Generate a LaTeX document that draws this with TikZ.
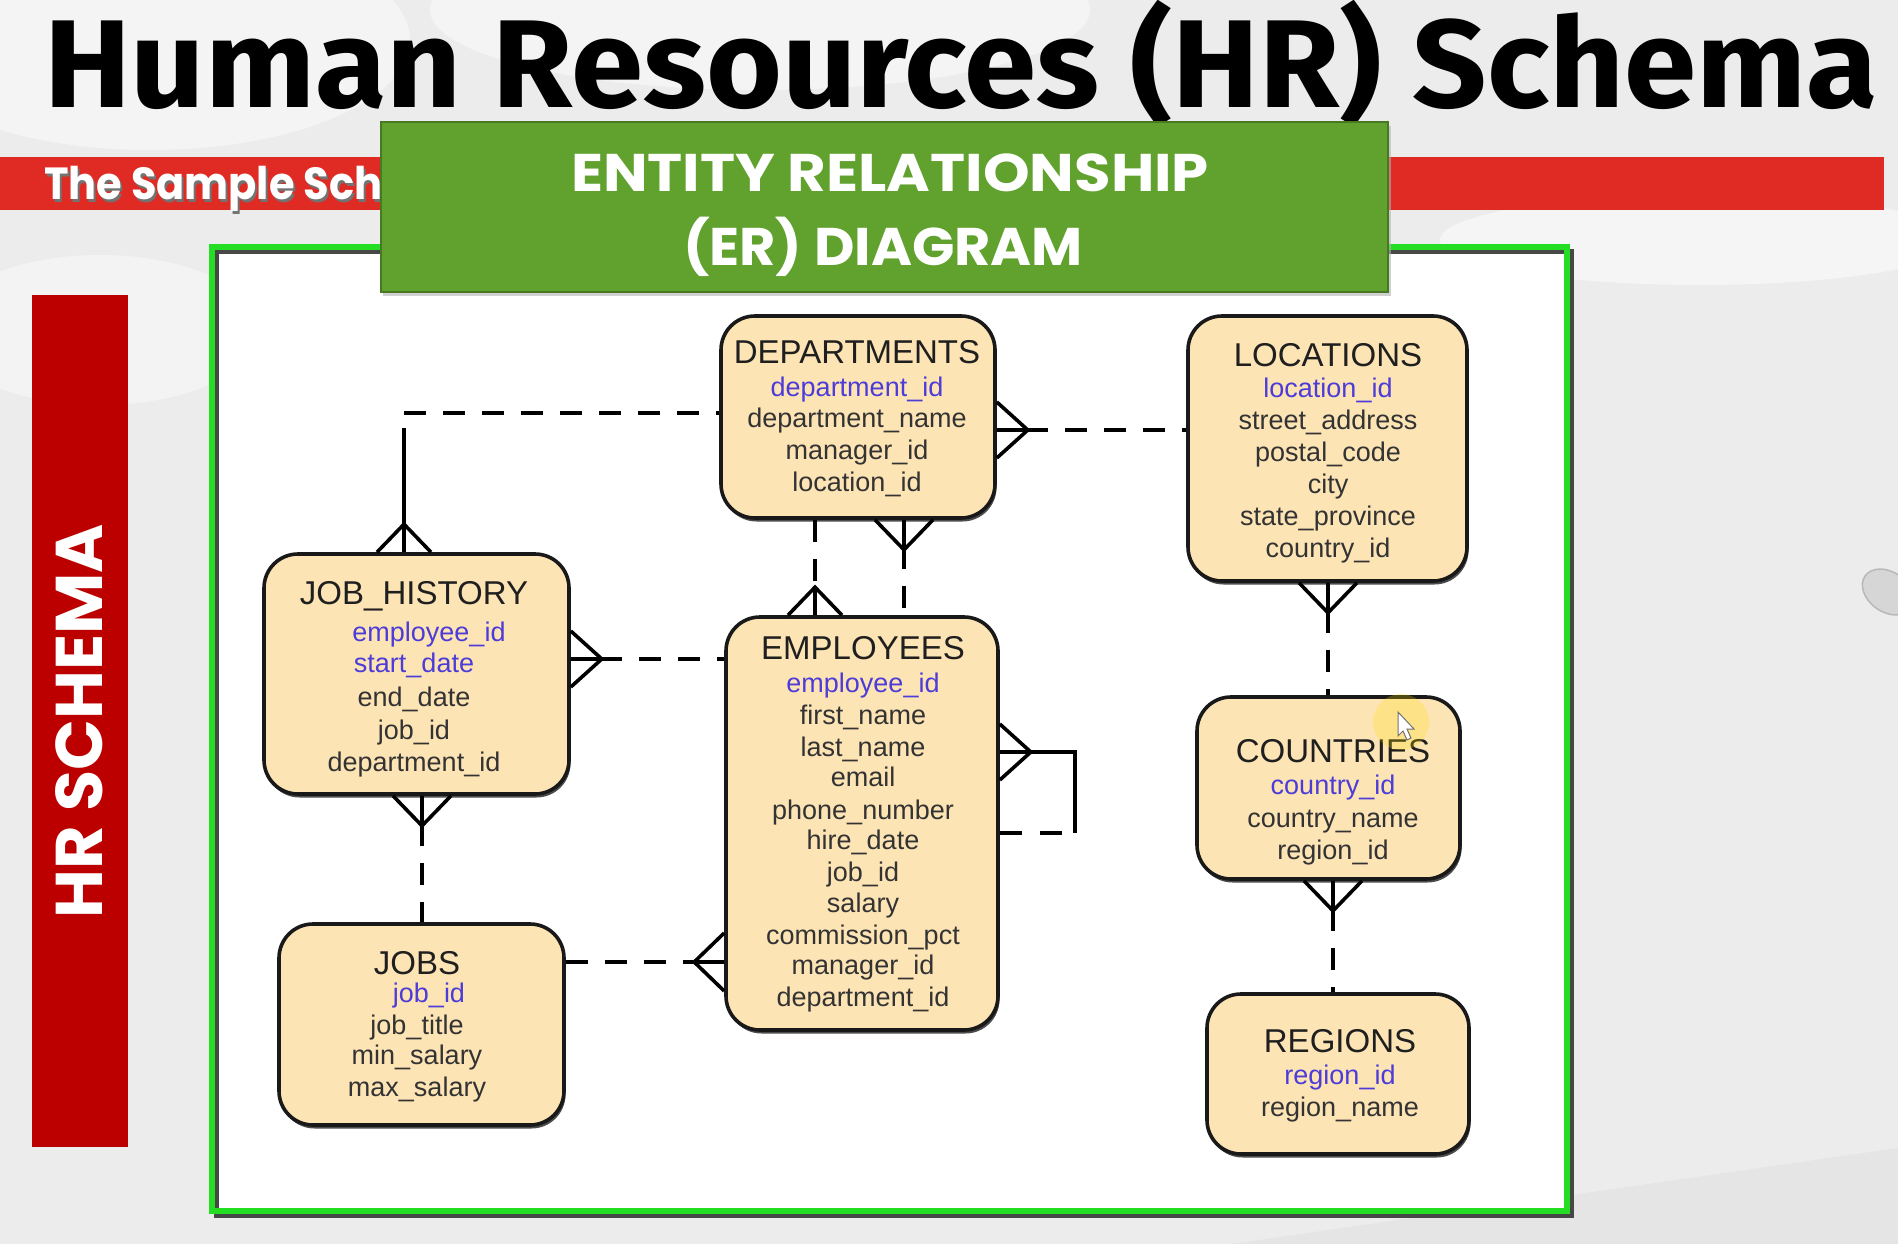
\documentclass[tikz,border=0pt]{standalone}
\usepackage{graphicx}
\usepackage{fontspec}
\setmainfont{Liberation Sans}
\newfontfamily\headfont{Fira Sans}
\newfontfamily\bannerfont{Poppins}
\usetikzlibrary{calc}
\definecolor{bgray}{RGB}{236,236,236}
\definecolor{boxfill}{RGB}{253,228,181}
\definecolor{keyblue}{RGB}{76,60,216}
\definecolor{framegreen}{RGB}{36,222,36}
\definecolor{bannergreen}{RGB}{96,162,45}
\definecolor{bandred}{RGB}{224,42,36}
\definecolor{barred}{RGB}{188,0,0}
\begin{document}
\begin{tikzpicture}[x=1pt,y=-1pt,
  entity/.style={draw=black!90, line width=3.6pt, fill=boxfill, rounded corners=34pt,
    inner sep=0pt, preaction={fill=black!70, transform canvas={shift={(1.5pt,-3.5pt)}}}},
  etitle/.style={font=\fontsize{33}{33}\selectfont, text=black!88, inner sep=0pt,
    text height=23.6pt, text depth=0pt},
  attr/.style={font=\fontsize{27}{27}\selectfont, text=black!80, inner sep=0pt,
    text height=19.3pt, text depth=0pt},
  keyattr/.style={attr, text=keyblue},
  dashline/.style={line width=4pt, dash pattern=on 22pt off 17pt},
  solidline/.style={line width=3.6pt},
  footN/.pic={\draw[line width=3.6pt] (-27,0) -- (0,-28) -- (27,0) (0,0) -- (0,-28);},
  footS/.pic={\draw[line width=3.6pt] (-29,0) -- (0,30) -- (29,0) (0,0) -- (0,30);},
  footE/.pic={\draw[line width=3.6pt] (0,-28) -- (31,0) -- (0,28) (0,0) -- (31,0);},
  footW/.pic={\draw[line width=3.6pt] (0,-29) -- (-30,0) -- (0,29) (0,0) -- (-30,0);},
  headtext/.style={inner sep=0pt}
]
\useasboundingbox (0,0) rectangle (1898,1244);

% ---------- backdrop ----------
\fill[bgray] (0,0) rectangle (1898,1244);
\fill[white, opacity=.45] (150,40) ellipse [x radius=260, y radius=110];
\fill[white, opacity=.45] (760,10) ellipse [x radius=330, y radius=80];
\fill[white, opacity=.5] (1700,240) ellipse [x radius=260, y radius=45];
\fill[white, opacity=.4] (100,330) ellipse [x radius=160, y radius=75];
\fill[black!10] (1231,1244) -- (1898,1148) -- (1898,1244) -- cycle;
\filldraw[fill=black!16, draw=black!28, line width=1.5pt, rotate around={-35:(1888,592)}]
  (1888,592) ellipse [x radius=28, y radius=20];

% ---------- heading ----------
\node[headtext, anchor=base west] (title) at (44,108)
  {\resizebox{1834pt}{\height}{\headfont\bfseries\fontsize{125}{125}\selectfont Human Resources (HR) Schema}};
\fill[bandred] (0,157) rectangle (1884,210);
\node[headtext, anchor=base west, text=black!55] (sub-sh) at (46,202)
  {\resizebox{338pt}{\height}{\bannerfont\bfseries\fontsize{45}{45}\selectfont The Sample Sch}};
\node[headtext, anchor=base west, text=white] (sub) at (44,200)
  {\resizebox{338pt}{\height}{\bannerfont\bfseries\fontsize{45}{45}\selectfont The Sample Sch}};

% ---------- side bar ----------
\fill[barred] (32,295) rectangle (128,1147);
\node[headtext, text=white, rotate=90, anchor=base] (side) at (102,721)
  {\resizebox{394pt}{\height}{\bannerfont\bfseries\fontsize{66}{66}\selectfont HR SCHEMA}};

% ---------- diagram frame ----------
\fill[white] (212,247) rectangle (1567,1211);
\draw[line width=5pt, black!72] (216,251) rectangle (1571,1215);
\draw[line width=6pt, framegreen] (212,247) rectangle (1567,1211);

% ---------- banner ----------
\fill[black!30, opacity=.6] (383,126) rectangle (1391,296);
\node[draw=bannergreen!75!black, line width=2pt, fill=bannergreen, minimum width=1007pt,
  minimum height=170pt, inner sep=0pt] (banner) at (884.5,207) {};
\node[headtext, text=white, anchor=base] (banner-1) at (890,191)
  {\resizebox{638pt}{\height}{\bannerfont\bfseries\fontsize{53}{53}\selectfont ENTITY RELATIONSHIP}};
\node[headtext, text=white, anchor=base] (banner-2) at (883,265)
  {\resizebox{400pt}{\height}{\bannerfont\bfseries\fontsize{53}{53}\selectfont (ER) DIAGRAM}};

% ---------- entities ----------
\node[entity, minimum width=274pt, minimum height=202pt] (dep) at (858,417) {};
\node[etitle] (dep-t) at (857,352) {DEPARTMENTS};
\node[keyattr] (dep-k) at (857,387) {department\_id};
\foreach \txt/\yy [count=\i] in {department\_name/418, manager\_id/450, location\_id/482}
  \node[attr] (dep-a\i) at (857,\yy) {\txt};

\node[entity, minimum width=279pt, minimum height=265pt] (loc) at (1327.5,448.5) {};
\node[etitle] (loc-t) at (1328,355) {LOCATIONS};
\node[keyattr] (loc-k) at (1328,388) {location\_id};
\foreach \txt/\yy [count=\i] in {street\_address/420, postal\_code/452, city/484,
    state\_province/516, country\_id/548}
  \node[attr] (loc-a\i) at (1328,\yy) {\txt};

\node[entity, minimum width=305pt, minimum height=240pt] (jh) at (416.5,674) {};
\node[etitle] (jh-t) at (414,593) {JOB\_HISTORY};
\node[keyattr] (jh-k1) at (429,632) {employee\_id};
\node[keyattr] (jh-k2) at (414,663) {start\_date};
\foreach \txt/\yy [count=\i] in {end\_date/697, job\_id/730, department\_id/762}
  \node[attr] (jh-a\i) at (414,\yy) {\txt};

\node[entity, minimum width=272pt, minimum height=413pt] (emp) at (862,823.5) {};
\node[etitle] (emp-t) at (863,648) {EMPLOYEES};
\node[keyattr] (emp-k) at (863,683) {employee\_id};
\foreach \txt/\yy [count=\i] in {first\_name/715, last\_name/747, email/777,
    phone\_number/810, hire\_date/840, job\_id/872, salary/903, commission\_pct/935,
    manager\_id/965, department\_id/997}
  \node[attr] (emp-a\i) at (863,\yy) {\txt};

\node[entity, minimum width=285pt, minimum height=201pt] (jobs) at (421.5,1024.5) {};
\node[etitle] (jobs-t) at (417,963) {JOBS};
\node[keyattr] (jobs-k) at (429,993) {job\_id};
\foreach \txt/\yy [count=\i] in {job\_title/1025, min\_salary/1055, max\_salary/1087}
  \node[attr] (jobs-a\i) at (417,\yy) {\txt};

\node[entity, minimum width=263pt, minimum height=182pt] (cty) at (1328.5,788) {};
\node[etitle] (cty-t) at (1333,751) {COUNTRIES};
\node[keyattr] (cty-k) at (1333,785) {country\_id};
\foreach \txt/\yy [count=\i] in {country\_name/818, region\_id/850}
  \node[attr] (cty-a\i) at (1333,\yy) {\txt};

\node[entity, minimum width=262pt, minimum height=160pt] (reg) at (1338,1074) {};
\node[etitle] (reg-t) at (1340,1041) {REGIONS};
\node[keyattr] (reg-k) at (1340,1075) {region\_id};
\node[attr] (reg-a1) at (1340,1107) {region\_name};

% ---------- relationships ----------
% DEPARTMENTS -- JOB_HISTORY
\coordinate (k1) at (404,413);
\coordinate (k1b) at (404,428);
\draw[dashline] (k1) -- (dep.west |- k1);
\draw[solidline] (k1b) -- (jh.north -| k1);
\pic at (jh.north -| k1) {footN};

% JOB_HISTORY -- EMPLOYEES
\coordinate (k2) at (600,659);
\pic at (jh.east |- k2) {footE};
\draw[dashline] (k2) -- (emp.west |- k2);

% DEPARTMENTS -- EMPLOYEES (department_id)
\coordinate (k3) at (815,588);
\draw[dashline] (dep.south -| k3) -- (k3);
\pic at (emp.north -| k3) {footN};

% DEPARTMENTS -- EMPLOYEES (manager_id)
\coordinate (k4) at (904,547);
\pic at (dep.south -| k4) {footS};
\draw[dashline] (k4) -- (emp.north -| k4);

% DEPARTMENTS -- LOCATIONS
\coordinate (k5) at (1026,430);
\pic at (dep.east |- k5) {footE};
\draw[dashline] (k5) -- (loc.west |- k5);

% LOCATIONS -- COUNTRIES
\coordinate (k6) at (1328,611);
\pic at (loc.south -| k6) {footS};
\draw[dashline] (k6) -- (cty.north -| k6);

% COUNTRIES -- REGIONS
\coordinate (k7) at (1333,909);
\pic at (cty.south -| k7) {footS};
\draw[dashline] (k7) -- (reg.north -| k7);

% JOB_HISTORY -- JOBS
\coordinate (k8) at (422,824);
\pic at (jh.south -| k8) {footS};
\draw[dashline] (k8) -- (jobs.north -| k8);

% JOBS -- EMPLOYEES
\coordinate (k9) at (696,962);
\draw[dashline] (jobs.east |- k9) -- (k9);
\pic at (emp.west |- k9) {footW};

% EMPLOYEES -- EMPLOYEES (manager_id)
\coordinate (k10) at (1029,752);
\coordinate (k11) at (1075,752);
\coordinate (k12) at (1075,833);
\coordinate (k13) at (1063,833);
\pic at (emp.east |- k10) {footE};
\draw[solidline] (k10) -- (k11) -- (k12);
\draw[line width=4pt, dash pattern=on 22pt off 18pt] (emp.east |- k13) -- (k13);

% ---------- pointer ----------
\fill[yellow!80!orange, opacity=.25] (1401,722) circle (28);
\filldraw[fill=white, draw=black!55, line width=1pt]
  (1398,712) -- (1398,736) -- (1403,731) -- (1407,740) -- (1411,738) -- (1407,729) -- (1414,729) -- cycle;
\end{tikzpicture}
\end{document}
